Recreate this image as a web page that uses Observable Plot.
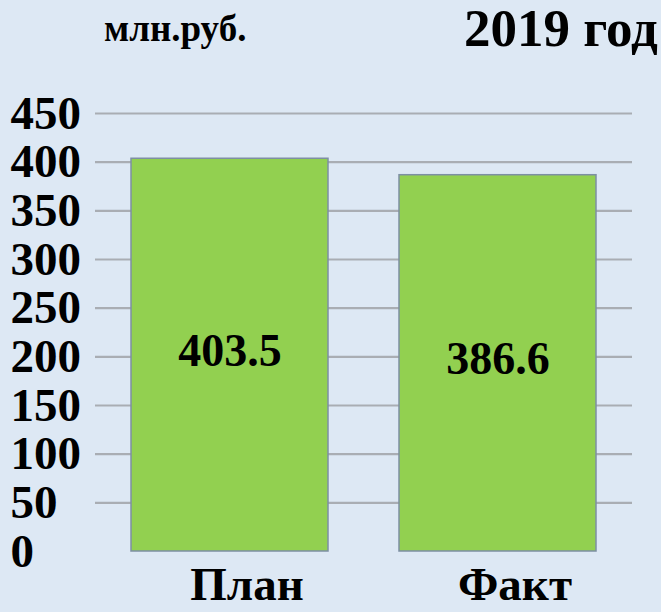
<!DOCTYPE html>
<html>
<head>
<meta charset="utf-8">
<script src="https://cdn.jsdelivr.net/npm/d3@7"></script>
<script src="https://cdn.jsdelivr.net/npm/@observablehq/plot@0.6"></script>
<style>
  html, body { margin: 0; padding: 0; background: #dde8f4; }
  #wrap { position: relative; width: 661px; height: 612px; overflow: hidden; background: #dde8f4;
          font-family: "Liberation Serif", "Times New Roman", serif; font-weight: bold; color: #000; }
  #unit { position: absolute; left: 104px; top: 10px; font-size: 37px; line-height: 1; white-space: nowrap; }
  #title { position: absolute; left: 464px; top: 2px; font-size: 53px; line-height: 1; white-space: nowrap; }
  #chart { position: absolute; left: 0; top: 0; }
</style>
</head>
<body>
<div id="wrap">
  <div id="chart"></div>
  <div id="unit">млн.руб.</div>
  <div id="title">2019 год</div>
</div>
<script>
const categories = ["План", "Факт"];
const values = [403.5, 386.6];
const yTicks = [0, 50, 100, 150, 200, 250, 300, 350, 400, 450];
const gridTicks = [50, 100, 150, 200, 250, 300, 350, 400, 450];

const data = categories.map((c, i) => ({category: c, value: values[i]}));

const chart = Plot.plot({
  width: 661,
  height: 612,
  marginTop: 113,
  marginBottom: 61,
  marginLeft: 95,
  marginRight: 29,
  style: {background: "transparent", fontFamily: "'Liberation Serif', 'Times New Roman', serif", fontWeight: "bold", color: "#000"},
  x: {domain: categories, paddingInner: 0.265, paddingOuter: 0.134, label: null},
  y: {domain: [0, 450], label: null},
  marks: [
    Plot.ruleY(gridTicks, {stroke: "#a9adb3", strokeWidth: 2.2}),
    Plot.barY(data, {x: "category", y: "value", fill: "#92d050", stroke: "#7d8fa3", strokeWidth: 1.5}),
    Plot.text(data, {x: "category", y: d => d.value / 2, text: d => d.value.toFixed(1), fontSize: 46, fontWeight: "bold", fill: "#000", dy: -4}),
    Plot.axisY(yTicks, {tickSize: 0, tickPadding: 0, textAnchor: "start", dx: -85, fontSize: 47, fontWeight: "bold", fill: "#000", tickFormat: d => String(d)}),
    Plot.axisX({tickSize: 0, tickPadding: 15, fontSize: 47, fontWeight: "bold", fill: "#000", dx: 17, label: null})
  ]
});
document.getElementById("chart").appendChild(chart);
</script>
</body>
</html>
